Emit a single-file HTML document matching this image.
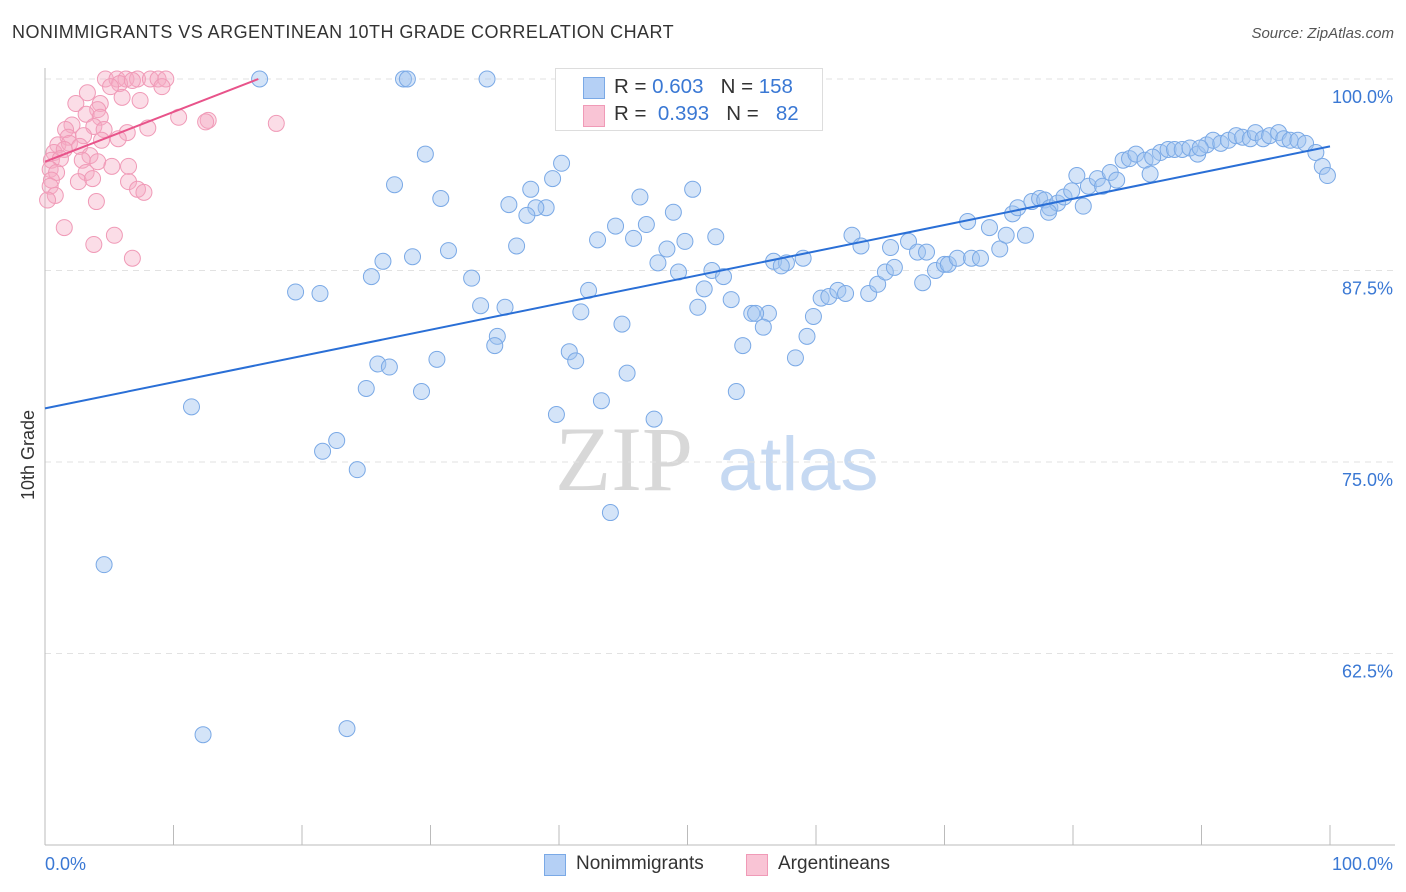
<!DOCTYPE html>
<html><head><meta charset="utf-8"><style>
body{margin:0;background:#fff;font-family:"Liberation Sans",sans-serif;}
#wrap{position:relative;width:1406px;height:892px;overflow:hidden;}
.t{position:absolute;white-space:nowrap;}
</style></head><body>
<div id="wrap">
<div class="t" style="left:12px;top:22px;font-size:18px;color:#333;letter-spacing:0.45px">NONIMMIGRANTS VS ARGENTINEAN 10TH GRADE CORRELATION CHART</div>
<div class="t" style="right:12px;top:25px;font-size:15px;color:#555;font-style:italic">Source: ZipAtlas.com</div>
<svg id="chart" width="1406" height="892" style="position:absolute;left:0;top:0"></svg>
<div class="t" style="left:555px;top:68px;width:266px;height:61px;border:1px solid #ddd;background:#fff">
  <div style="position:absolute;left:27px;top:8px;width:20px;height:20px;background:#b5d0f5;border:1px solid #7aa9e6"></div>
  <div style="position:absolute;left:58px;top:6px;font-size:20.5px;color:#333">R = <span style="color:#3a78d4">0.603</span>&nbsp;&nbsp;&nbsp;N = <span style="color:#3a78d4">158</span></div>
  <div style="position:absolute;left:27px;top:36px;width:20px;height:20px;background:#f9c4d5;border:1px solid #f09ab7"></div>
  <div style="position:absolute;left:58px;top:33px;font-size:20.5px;color:#333">R = <span style="color:#3a78d4">&nbsp;0.393</span>&nbsp;&nbsp;&nbsp;N = <span style="color:#3a78d4">&nbsp;&nbsp;82</span></div>
</div>
<div class="t" style="left:544px;top:854px;width:20px;height:20px;background:#b5d0f5;border:1px solid #7aa9e6"></div>
<div class="t" style="left:576px;top:853px;font-size:19px;color:#333">Nonimmigrants</div>
<div class="t" style="left:746px;top:854px;width:20px;height:20px;background:#f9c4d5;border:1px solid #f09ab7"></div>
<div class="t" style="left:778px;top:853px;font-size:19px;color:#333">Argentineans</div>
</div>
<script>
const yTicks=[100,87.5,75,62.5];
const yTickLabels=["100.0%","87.5%","75.0%","62.5%"];
const xTickLabels=["0.0%","100.0%"];
const blueX=[16.7,27.9,28.2,34.4,29.6,27.2,30.8,36.1,37.8,40.2,39.5,39.0,38.2,37.5,36.7,31.4,28.6,26.3,25.4,33.2,19.5,21.4,33.9,35.8,42.3,41.7,44.9,35.2,35.0,40.8,41.3,30.5,25.9,26.8,25.0,29.3,45.3,43.3,39.8,47.4,11.4,22.7,21.6,24.3,44.0,4.6,12.3,23.5,43.0,44.4,45.8,46.8,46.3,48.9,48.4,49.8,47.7,49.3,52.2,50.4,51.9,52.8,51.3,50.8,53.4,55.0,56.3,55.3,55.9,54.3,53.8,58.4,59.3,59.8,60.4,61.0,61.7,62.3,64.1,64.8,65.4,66.1,56.7,57.7,57.3,59.0,62.8,63.5,65.8,67.2,67.9,68.6,68.3,69.3,70.0,70.3,71.0,72.1,72.8,71.8,73.5,74.3,74.8,75.3,75.7,76.3,76.8,77.4,77.8,78.2,78.8,79.3,79.9,80.3,80.8,81.2,81.9,82.3,82.9,83.4,83.9,84.4,84.9,85.6,86.0,86.8,87.4,87.9,88.5,89.1,89.7,90.4,90.9,91.5,92.1,92.7,93.2,93.8,94.2,94.8,95.3,96.0,96.4,96.9,97.5,98.1,98.9,99.4,99.8,89.9,86.2,78.1];
const blueY=[100,100,100,100,95.1,93.1,92.2,91.8,92.8,94.5,93.5,91.6,91.6,91.1,89.1,88.8,88.4,88.1,87.1,87.0,86.1,86.0,85.2,85.1,86.2,84.8,84.0,83.2,82.6,82.2,81.6,81.7,81.4,81.2,79.8,79.6,80.8,79.0,78.1,77.8,78.6,76.4,75.7,74.5,71.7,68.3,57.2,57.6,89.5,90.4,89.6,90.5,92.3,91.3,88.9,89.4,88.0,87.4,89.7,92.8,87.5,87.1,86.3,85.1,85.6,84.7,84.7,84.7,83.8,82.6,79.6,81.8,83.2,84.5,85.7,85.8,86.2,86.0,86.0,86.6,87.4,87.7,88.1,88.0,87.8,88.3,89.8,89.1,89.0,89.4,88.7,88.7,86.7,87.5,87.9,87.9,88.3,88.3,88.3,90.7,90.3,88.9,89.8,91.2,91.6,89.8,92.0,92.2,92.1,91.6,91.9,92.3,92.7,93.7,91.7,93.0,93.5,93.0,93.9,93.4,94.7,94.8,95.1,94.7,93.8,95.2,95.4,95.4,95.4,95.5,95.1,95.7,96.0,95.8,96.0,96.3,96.2,96.1,96.5,96.1,96.3,96.5,96.1,96.0,96.0,95.8,95.2,94.3,93.7,95.5,94.9,91.3];
const pinkX=[4.7,5.6,6.3,7.2,8.2,8.8,9.4,5.8,6.8,5.1,9.1,3.3,2.4,4.3,6.0,7.4,4.1,3.2,2.1,4.3,10.4,12.7,12.5,18.0,1.6,3.8,4.6,8.0,6.4,1.8,3.0,5.7,4.4,1.0,1.9,2.7,0.7,1.5,3.5,0.5,1.2,2.9,4.1,5.2,6.5,0.4,0.9,3.2,0.5,2.6,3.7,6.5,0.4,0.8,7.2,7.7,0.2,4.0,1.5,3.8,5.4,6.8];
const pinkY=[100,100,100,100,100,100,100,99.7,99.9,99.5,99.5,99.1,98.4,98.4,98.8,98.6,98.0,97.7,97.0,97.5,97.5,97.3,97.2,97.1,96.7,96.9,96.7,96.8,96.5,96.2,96.3,96.1,96.0,95.7,95.8,95.6,95.2,95.4,95.0,94.7,94.8,94.7,94.6,94.3,94.3,94.1,93.9,93.9,93.4,93.3,93.5,93.3,93.0,92.4,92.8,92.6,92.1,92.0,90.3,89.2,89.8,88.3];
const blueTrend=[[0,78.5],[100,95.6]];
const pinkTrend=[[0,94.6],[16.6,100]];

const X0=45,X1=1330,YT=79,YB=845;
const xs=v=>X0+(X1-X0)*v/100;
const ys=v=>YT+(100-v)*(YB-YT)/50;
const svg=document.getElementById('chart');
const NS='http://www.w3.org/2000/svg';
function mk(tag,attrs){const e=document.createElementNS(NS,tag);for(const k in attrs)e.setAttribute(k,attrs[k]);svg.appendChild(e);return e;}
let w=mk('text',{x:555,y:490,'font-size':92,'font-family':'Liberation Serif, serif',fill:'#d8d8d8'});w.textContent='ZIP';


w=mk('text',{x:718,y:490,'font-size':76,'font-family':'Liberation Sans, sans-serif',fill:'#c6d9f2'});w.textContent='atlas';


yTicks.forEach((t,i)=>{
 const g=mk('line',{x1:X0,x2:1395,y1:ys(t),y2:ys(t),stroke:'#e2e2e2','stroke-dasharray':'6,5'});
 
 
 const l=mk('text',{x:1393,y:ys(t)+24,'text-anchor':'end','font-size':18,fill:'#3a78d4','font-family':'Liberation Sans, sans-serif'});l.textContent=yTickLabels[i];
 
 
});
let a=mk('line',{x1:X0,x2:X0,y1:68,y2:YB,stroke:'#bbb'});


a=mk('line',{x1:X0,x2:1395,y1:YB,y2:YB,stroke:'#bbb'});


for(let i=0;i<=10;i++){const tk=mk('line',{x1:xs(i*10),x2:xs(i*10),y1:YB-20,y2:YB,stroke:'#bbb'});
 
 }
[[0,'start',45],[100,'end',1393]].forEach((d,i)=>{const l=mk('text',{x:d[2],y:870,'text-anchor':d[1],'font-size':18,fill:'#3a78d4','font-family':'Liberation Sans, sans-serif'});l.textContent=xTickLabels[i];
 
 });
let yt=mk('text',{x:34,y:455,'text-anchor':'middle','font-size':18,fill:'#333',transform:'rotate(-90 34 455)','font-family':'Liberation Sans, sans-serif'});yt.textContent='10th Grade';


blueX.forEach((x,i)=>{const c=mk('circle',{cx:xs(x),cy:ys(blueY[i]),r:8,fill:'rgba(160,196,240,0.45)',stroke:'#7aa9e6','stroke-width':1});
 
 });
pinkX.forEach((x,i)=>{const c=mk('circle',{cx:xs(x),cy:ys(pinkY[i]),r:8,fill:'rgba(246,170,195,0.4)',stroke:'#f09ab7','stroke-width':1});
 
 });
let tl=mk('line',{x1:xs(blueTrend[0][0]),y1:ys(blueTrend[0][1]),x2:xs(blueTrend[1][0]),y2:ys(blueTrend[1][1]),stroke:'#2a6fd6','stroke-width':2});


tl=mk('line',{x1:xs(pinkTrend[0][0]),y1:ys(pinkTrend[0][1]),x2:xs(pinkTrend[1][0]),y2:ys(pinkTrend[1][1]),stroke:'#e8538a','stroke-width':2});


</script>
</body></html>
